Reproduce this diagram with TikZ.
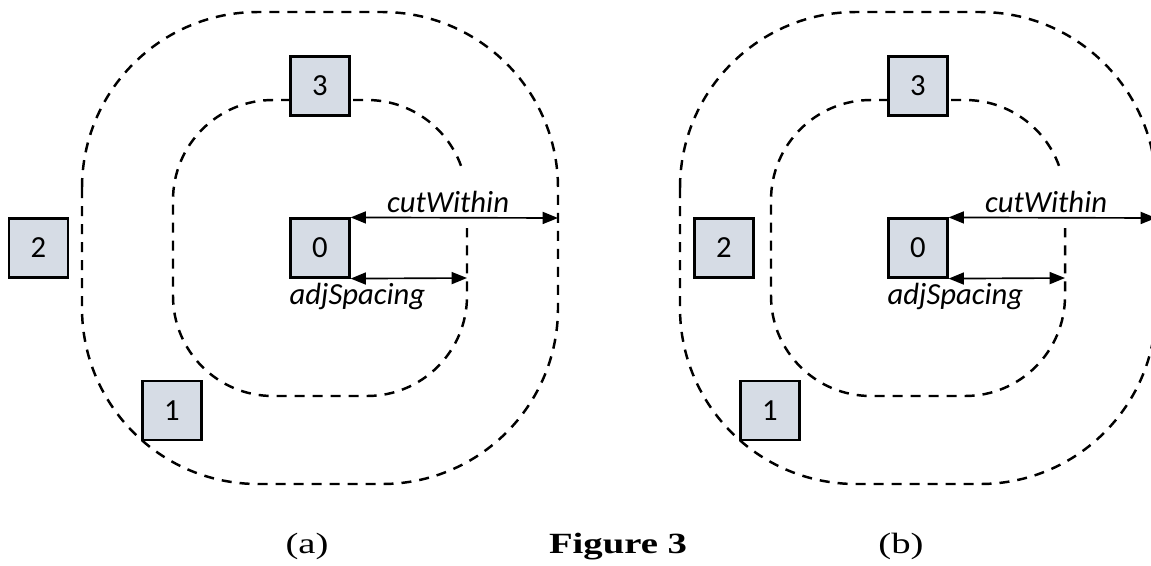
\documentclass[tikz,border=0pt]{standalone}
\usepackage{graphicx}
\usepackage{fontspec}
\setmainfont{Liberation Serif}
\newfontfamily\calibri{Carlito}
\usetikzlibrary{arrows.meta}
\definecolor{boxfill}{HTML}{D6DCE5}
\tikzset{
  loopline/.style={line width=1.85pt, dash pattern=on 7.5pt off 6pt},
  cell/.style={draw, line width=1.9pt, fill=boxfill, minimum size=44pt,
    inner sep=0pt, font=\calibri\fontsize{23}{27}\selectfont},
  dim/.style={line width=1.25pt,
    {Triangle[length=11.5pt,width=9pt]}-{Triangle[length=11.5pt,width=9pt]}},
  lbl/.style={font=\calibri\itshape\fontsize{23}{27}\selectfont},
  captext/.style={font=\fontsize{22}{26}\selectfont, anchor=base}
}
\newcommand\widecap[1]{\scalebox{1.32}[1]{#1}}
\begin{document}
\begin{tikzpicture}[x=0.75pt,y=0.75pt]
\useasboundingbox (0,0) rectangle (1151,-565);

% ---------- panel (a) ----------
\draw[loopline, rounded corners=132pt] (82,-12) rectangle (558,-484);
\draw[loopline] (461,-165.8) arc[start angle=20,end angle=90,radius=100]
  -- (273,-100) arc[start angle=90,end angle=180,radius=100]
  -- (173,-296) arc[start angle=180,end angle=270,radius=100]
  -- (367,-396) arc[start angle=270,end angle=360,radius=100]
  -- (467,-228);
\node[cell] (zeroA)  at (320,-248) {0};
\node[cell] (oneA)   at (172,-410.5) {1};
\node[cell] (twoA)   at (38.5,-248) {2};
\node[cell] (threeA) at (320,-86) {3};
\coordinate (cwA) at (558,-218);
\coordinate (asA) at (467,-278);
\draw[dim] (zeroA.north east) -- node[lbl, above, pos=.47] {cutWithin} (cwA);
\draw[dim] (zeroA.south east) -- (asA);
\node[lbl, anchor=north west, inner xsep=0pt] at (zeroA.south west) {adjSpacing};

% ---------- panel (b) ----------
\begin{scope}[xshift=448.5pt]
\draw[loopline, rounded corners=132pt] (82,-12) rectangle (558,-484);
\draw[loopline] (461,-165.8) arc[start angle=20,end angle=90,radius=100]
  -- (273,-100) arc[start angle=90,end angle=180,radius=100]
  -- (173,-296) arc[start angle=180,end angle=270,radius=100]
  -- (367,-396) arc[start angle=270,end angle=360,radius=100]
  -- (467,-228);
\node[cell] (zeroB)  at (320,-248) {0};
\node[cell] (oneB)   at (172,-410.5) {1};
\node[cell] (twoB)   at (126,-248) {2};
\node[cell] (threeB) at (320,-86) {3};
\coordinate (cwB) at (558,-218);
\coordinate (asB) at (467,-278);
\draw[dim] (zeroB.north east) -- node[lbl, above, pos=.47] {cutWithin} (cwB);
\draw[dim] (zeroB.south east) -- (asB);
\node[lbl, anchor=north west, inner xsep=0pt] at (zeroB.south west) {adjSpacing};
\end{scope}

% ---------- captions ----------
\node[captext] (capA) at (307,-553) {\widecap{(a)}};
\node[captext] (capF) at (618,-553) {\widecap{\bfseries Figure 3}};
\node[captext] (capB) at (901,-553) {\widecap{(b)}};
\end{tikzpicture}
\end{document}
